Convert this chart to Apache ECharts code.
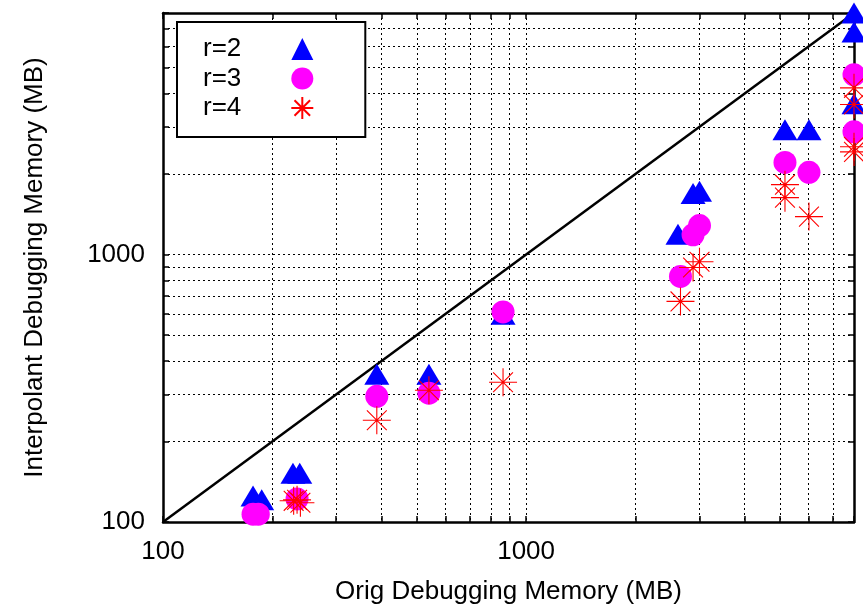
<!DOCTYPE html>
<html>
<head>
<meta charset="utf-8">
<title>Debugging Memory</title>
<script src="https://cdn.jsdelivr.net/npm/echarts@6/dist/echarts.min.js"></script>
<style>
  html, body { margin: 0; padding: 0; background: #fff; }
  #chart { width: 863px; height: 610px; }
</style>
</head>
<body>
<div id="chart"></div>
<script>
// axis range (log scale, both axes)
var axisMin = 100;
var axisMax = 8000;
var tickValues = [100, 200, 300, 400, 500, 600, 700, 800, 900,
                  1000, 2000, 3000, 4000, 5000, 6000, 7000, 8000];
var labelValues = [100, 1000];

var seriesNames = ['r=2', 'r=3', 'r=4'];

// [orig, interpolant] in MB
var r2 = [[177, 125], [187, 121], [228, 152], [238, 152], [388, 357], [540, 357],
          [864, 598], [2620, 1190], [2883, 1690], [3003, 1725], [5164, 2930],
          [6013, 2930], [8000, 8000], [8000, 6800], [8000, 3660]];
var r3 = [[177, 107], [183, 107], [234, 122], [388, 295], [540, 303], [864, 610],
          [2662, 828], [2883, 1185], [3003, 1283], [5164, 2210], [6013, 2030],
          [8000, 4700], [8000, 2877]];
var r4 = [[229, 120], [234, 121], [239, 118], [388, 240], [540, 311], [864, 333],
          [2662, 668], [2883, 894], [3003, 940], [5164, 1825], [5164, 1632],
          [6013, 1386], [8000, 4200], [8000, 3640], [8000, 2530], [8000, 2420]];

var diagonal = [[100, 100], [8000, 8000]];

var font = 'Liberation Sans, Arial, sans-serif';
var starPath = 'path://M0,12L24,12M12,0L12,24M3.5,3.5L20.5,20.5M3.5,20.5L20.5,3.5';

function makeAxis(pos, showLabel) {
    return {
        type: 'log',
        logBase: 10,
        position: pos,
        min: axisMin,
        max: axisMax,
        axisLine: { show: true, lineStyle: { color: '#000', width: 2.5 } },
        axisTick: { show: true, inside: true, length: 6, customValues: tickValues,
                    lineStyle: { color: '#000', width: 1.5 } },
        axisLabel: { show: showLabel, customValues: labelValues, color: '#000',
                     fontSize: 26, fontFamily: font, margin: 17,
                     formatter: function (v) { return String(v); } },
        splitLine: { show: showLabel, lineStyle: { color: '#000', width: 1, type: [2, 3] } },
        minorSplitLine: { show: false }
    };
}

var chart = echarts.init(document.getElementById('chart'));

var xBottom = makeAxis('bottom', true);
xBottom.name = 'Orig Debugging Memory (MB)';
xBottom.nameLocation = 'middle';
xBottom.nameGap = 57;
xBottom.nameTextStyle = { color: '#000', fontSize: 26, fontFamily: font };

var yLeft = makeAxis('left', true);
yLeft.name = 'Interpolant Debugging Memory (MB)';
yLeft.nameLocation = 'middle';
yLeft.nameGap = 115;
yLeft.nameTextStyle = { color: '#000', fontSize: 26, fontFamily: font };
yLeft.axisLabel.margin = 18;

var option = {
    animation: false,
    backgroundColor: '#fff',
    grid: { left: 163, right: 9, top: 13, bottom: 87 },
    xAxis: [xBottom, makeAxis('top', false)],
    yAxis: [yLeft, makeAxis('right', false)],
    legend: {
        data: seriesNames,
        orient: 'vertical',
        left: 177,
        top: 22,
        align: 'right',
        itemWidth: 22,
        itemHeight: 22,
        itemGap: 3.5,
        padding: [14, 51, 16, 26],
        backgroundColor: '#fff',
        borderColor: '#000',
        borderWidth: 2,
        borderRadius: 0,
        textStyle: { color: '#000', fontSize: 26, fontFamily: font,
                     padding: [0, 45, 0, 0] }
    },
    series: [
        {
            type: 'line',
            data: diagonal,
            symbol: 'none',
            silent: true,
            lineStyle: { color: '#000', width: 2.5 },
            z: 1
        },
        {
            name: seriesNames[0],
            type: 'scatter',
            data: r2,
            symbol: 'triangle',
            symbolSize: [25, 21],
            itemStyle: { color: '#0000ff', opacity: 1 },
            z: 2
        },
        {
            name: seriesNames[1],
            type: 'scatter',
            data: r3,
            symbol: 'circle',
            symbolSize: 23,
            itemStyle: { color: '#ff00ff', opacity: 1 },
            z: 3
        },
        {
            name: seriesNames[2],
            type: 'scatter',
            data: r4,
            symbol: starPath,
            symbolSize: 28,
            itemStyle: { color: '#ff0000', borderColor: '#ff0000', borderWidth: 1.1, opacity: 1 },
            z: 4
        }
    ]
};

chart.setOption(option);
</script>
</body>
</html>
